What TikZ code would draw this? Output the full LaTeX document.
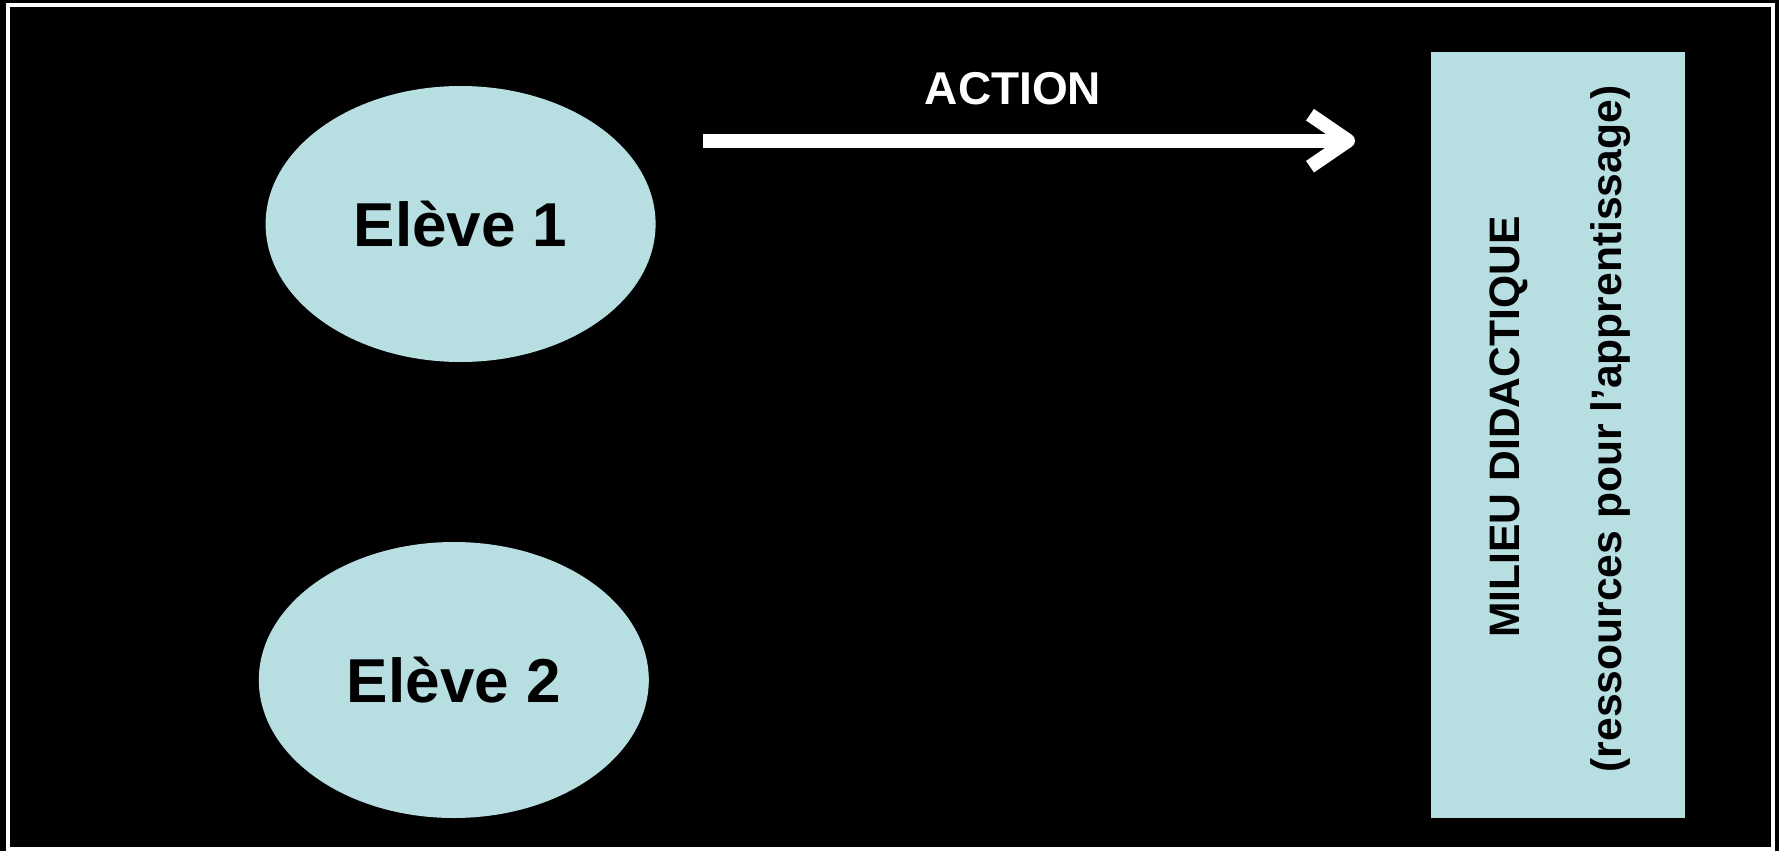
\documentclass[tikz,border=0pt]{standalone}
\usepackage{fontspec}
\setmainfont{Liberation Sans}
\usetikzlibrary{shapes.geometric,arrows.meta}
\definecolor{paleaqua}{HTML}{B7DEE1}
\tikzset{
  eleve/.style={ellipse, fill=paleaqua, draw=none, minimum width=390pt, minimum height=276pt, inner sep=0pt,
    font=\fontsize{62}{74}\selectfont\bfseries, text=black},
  milieubox/.style={rectangle, fill=paleaqua, draw=none, minimum width=254pt, minimum height=766pt, inner sep=0pt},
  boxtext/.style={rotate=90, font=\fontsize{42.6}{50}\selectfont\bfseries, text=black, inner sep=0pt},
  actionlabel/.style={font=\fontsize{46}{54}\selectfont\bfseries, text=white, inner sep=0pt},
  actionarrow/.style={white, line width=14pt, line join=round,
    -{Straight Barb[length=38pt,width=52pt,line join=round]}}
}
\begin{document}
\begin{tikzpicture}[x=1pt,y=-1pt]
  % page background and white frame
  \fill[black] (0,0) rectangle (1779,851);
  \useasboundingbox (0,0) rectangle (1779,851);
  \draw[white, line width=4pt] (7.7,5) rectangle (1772.5,849);

  % the two pupils
  \node[eleve] (e1) at (460.6,224) {Elève 1};
  \node[eleve] (e2) at (453.8,680) {Elève 2};

  % didactic environment
  \node[milieubox] (milieu) at (1558,435) {};
  \node[boxtext] (m1) at (1509,427) {MILIEU DIDACTIQUE};
  \node[boxtext] (m2) at (1611,429) {(ressources pour l’apprentissage)};

  % action arrow
  \coordinate (astart) at (703,140.7);
  \coordinate (aend) at (1355,140.7);
  \draw[actionarrow] (astart) -- (aend);
  \node[actionlabel] (action) at (1013,88.5) {ACTION};
\end{tikzpicture}
\end{document}
